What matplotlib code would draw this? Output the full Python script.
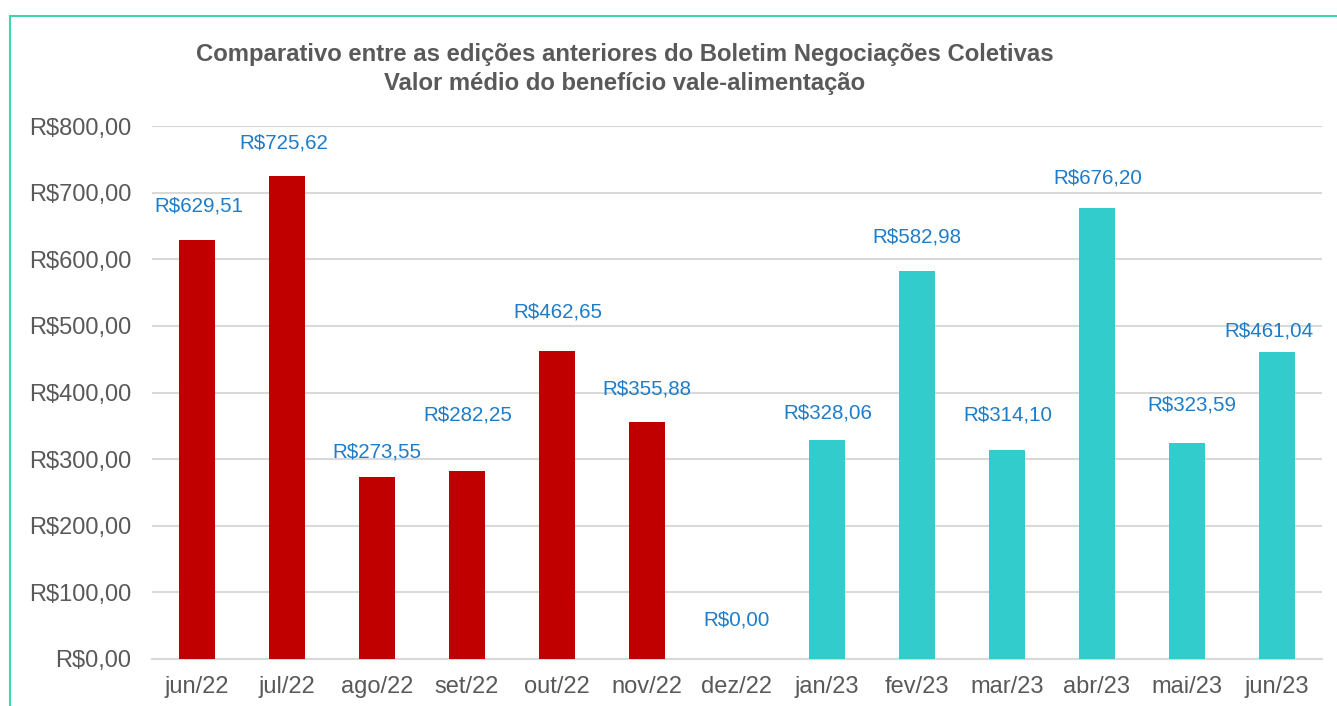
import matplotlib
matplotlib.use("Agg")
import matplotlib.pyplot as plt
from matplotlib.lines import Line2D

categories = ["jun/22", "jul/22", "ago/22", "set/22", "out/22", "nov/22", "dez/22",
              "jan/23", "fev/23", "mar/23", "abr/23", "mai/23", "jun/23"]
values = [629.51, 725.62, 273.55, 282.25, 462.65, 355.88, 0.00,
          328.06, 582.98, 314.10, 676.20, 323.59, 461.04]
yticks = [0, 100, 200, 300, 400, 500, 600, 700, 800]
title = ("Comparativo entre as edições anteriores do Boletim Negociações Coletivas\n"
         "Valor médio do benefício vale-alimentação")

# layout / style (label offsets in pixels, manually placed like original)
label_dx = [2, -3, 0, 1, 1, 0, 0, 1, 0, 1, 1, 5, -8]
label_dy = [34, 33, 25, 56, 39, 33, 39, 27, 34, 35, 30, 38, 21]

RED = "#C00000"
TEAL = "#33CCCC"
BLUE = "#1F7CC8"
GREY = "#595959"
W, H = 1337, 706

plt.rcParams['font.family'] = ['Liberation Sans', 'DejaVu Sans']
fig = plt.figure(figsize=(W / 100, H / 100), dpi=100)

ax = fig.add_axes([152 / W, (H - 659) / H, 1170 / W, (659 - 126) / H])
colors = [RED] * 7 + [TEAL] * 6
x = list(range(len(categories)))
ax.bar(x, values, width=0.4, color=colors, zorder=3)
ax.set_xlim(-0.5, len(categories) - 0.5)
ax.set_ylim(0, 800)
ax.set_yticks(yticks)
ax.set_yticklabels([f"R${v:,.2f}".replace(",", "X").replace(".", ",").replace("X", ".") for v in yticks])
ax.set_xticks(x)
ax.set_xticklabels(categories)
ax.tick_params(axis='both', length=0, labelsize=17, colors=GREY)
ax.tick_params(axis='y', pad=15)
ax.tick_params(axis='x', pad=12)
for s in ['top', 'right', 'left']:
    ax.spines[s].set_visible(False)
ax.spines['bottom'].set_color('#D9D9D9')
ax.spines['bottom'].set_linewidth(1.5)
ax.grid(axis='y', color='#D9D9D9', linewidth=1.5, zorder=0)
ax.set_axisbelow(True)

for i, v in enumerate(values):
    txt = "R$" + f"{v:.2f}".replace(".", ",")
    ax.annotate(txt, (i, v), xytext=(label_dx[i] * 0.72, label_dy[i] * 0.72),
                textcoords='offset points', ha='center', va='center',
                fontsize=14.8, color=BLUE, zorder=4)

fig.text(625 / W, 1 - 69 / H, title, ha='center', va='center', fontsize=17.2,
         fontweight='bold', color=GREY, linespacing=1.38)

# border
border = "#3ED6AE"
fig.add_artist(Line2D([9.5 / W, 9.5 / W], [0, 1 - 16 / H], color=border, linewidth=1.5,
                      transform=fig.transFigure))
fig.add_artist(Line2D([9.5 / W, 1], [1 - 16 / H, 1 - 16 / H], color=border, linewidth=1.5,
                      transform=fig.transFigure))

fig.savefig("out.png", dpi=100, facecolor='white')
